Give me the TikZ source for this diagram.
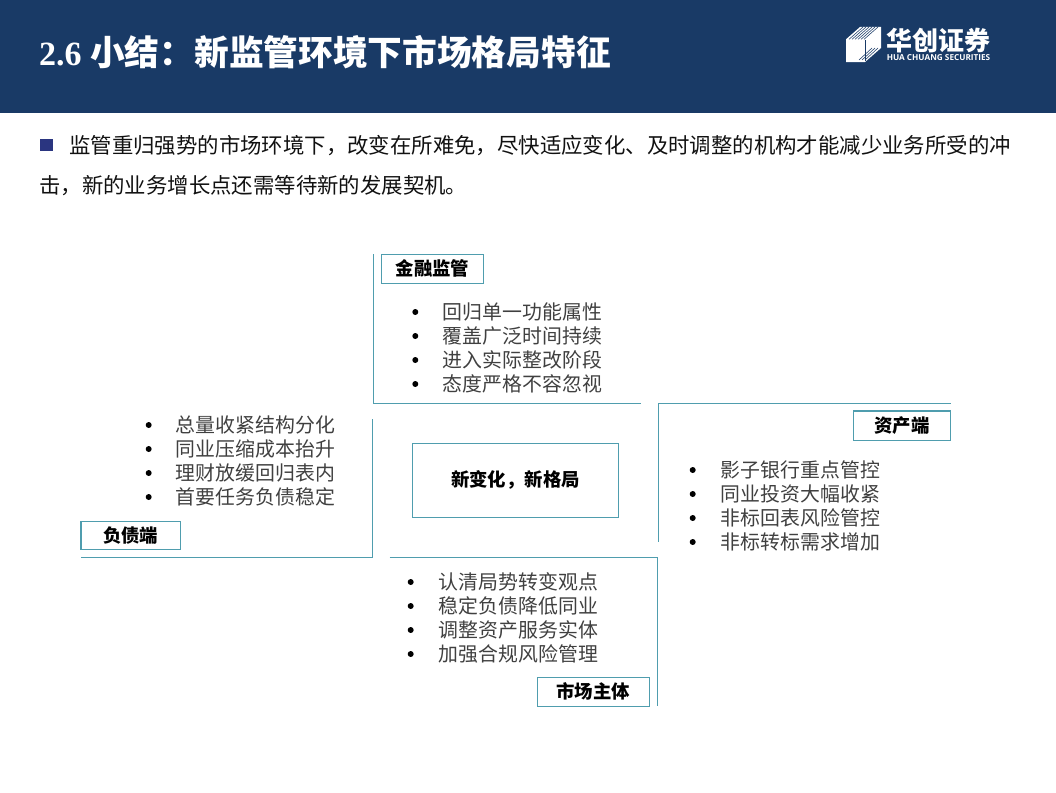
\documentclass[tikz,border=0pt]{standalone}
\usepackage{fontspec}
\setmainfont{Liberation Serif}
\newfontfamily\cjk{Noto Sans CJK SC}
\newfontfamily\latinb{Liberation Serif}
\newfontfamily\logolat{Open Sans}
\newcommand{\fs}[1]{\fontsize{#1pt}{#1pt}\selectfont}
\definecolor{hdr}{HTML}{193A66}
\definecolor{tealline}{HTML}{4F9DAE}
\definecolor{sq}{HTML}{2A3580}
\definecolor{bodytx}{HTML}{111111}
\definecolor{listtx}{HTML}{404040}
\tikzset{
 x=1pt,y=-1pt,
 lab/.style={draw=tealline,line width=1.3pt,fill=white,inner sep=0pt,outer sep=0pt,font=\cjk\fs{18.4}\bfseries,text=black,anchor=north west,align=center},
 rule/.style={draw=tealline,line width=1.3pt},
 body/.style={anchor=west,inner sep=0pt,font=\cjk\fs{21.4},text=bodytx},
 item/.style={anchor=west,inner sep=0pt,font=\cjk\fs{19.9},text=listtx},
 dot/.style={circle,fill=black,inner sep=0pt,minimum size=6pt},
}
\begin{document}
\begin{tikzpicture}
\useasboundingbox (0,0) rectangle (1056,792);
\fill[hdr] (0,0) rectangle (1056,113);
\node[anchor=west,inner sep=0pt,text=white] (title) at (39,52) {\latinb\fs{34}\bfseries 2.6 \cjk\fs{34.7}\bfseries 小结：新监管环境下市场格局特征};
% logo
\fill[white] (846,39.3) -- (860,27) -- (881,27) -- (881,48) -- (865,62) -- (846,62) -- cycle;
\foreach \d in {3,6,9,12,15,18}{\draw[hdr,line width=.55pt] (846+\d,39.3) -- (860+\d,27);}
\foreach \d in {3,6,9}{\draw[hdr,line width=.55pt] (881-\d,48+\d*.0) -- (881-\d-13,60);}
\draw[hdr,line width=.8pt] (865,40) -- (865,61);
\node[inner sep=0pt,text=white] (logocn) at (938.5,41) {\cjk\fs{26}\bfseries 华创证券};
\node[inner sep=0pt,text=white] (logoen) at (938.5,57.5) {\logolat\fs{8.2}\bfseries HUA CHUANG SECURITIES};
% bullet text
\fill[sq] (40,139) rectangle (53,151);
\node[body] (l1) at (69,146) {监管重归强势的市场环境下，改变在所难免，尽快适应变化、及时调整的机构才能减少业务所受的冲};
\node[body] (l2) at (39,186) {击，新的业务增长点还需等待新的发展契机。};
% rules
\coordinate (a1) at (373.5,254); \coordinate (a2) at (373.5,403.5); \coordinate (a3) at (641,403.5);
\coordinate (b1) at (658.5,541.5); \coordinate (b2) at (658.5,403.5); \coordinate (b3) at (950.5,403.5);
\coordinate (c1) at (372.5,419); \coordinate (c2) at (372.5,557.5); \coordinate (c3) at (81,557.5);
\coordinate (d1) at (389.5,557.5); \coordinate (d2) at (657.5,557.5); \coordinate (d3) at (657.5,706);
\draw[rule] (a1) -- (a2) -- (a3);
\draw[rule] (b1) -- (b2) -- (b3);
\draw[rule] (c1) -- (c2) -- (c3);
\draw[rule] (d1) -- (d2) -- (d3);
% labels
\node[lab,minimum width=102.4pt,minimum height=29pt] (jr) at (381.3,254.3) {金融监管};
\node[lab,minimum width=97.4pt,minimum height=29.3pt] (zc) at (853.3,411) {资产端};
\node[lab,minimum width=99.3pt,minimum height=27.6pt] (fz) at (81,521.7) {负债端};
\node[lab,minimum width=112pt,minimum height=29pt] (sc) at (537.3,677.3) {市场主体};
\node[lab,minimum width=206.4pt,minimum height=74pt] (center) at (412.3,443.3) {新变化，新格局};
% lists
\foreach \n/\y/\t in {a/312/回归单一功能属性,b/336/覆盖广泛时间持续,c/360/进入实际整改阶段,d/384/态度严格不容忽视}{
  \node[dot] (t\n) at (415.3,\y) {}; \node[item] (tt\n) at (442.5,\y) {\t};}
\foreach \n/\y/\t in {a/425/总量收紧结构分化,b/449/同业压缩成本抬升,c/473/理财放缓回归表内,d/497/首要任务负债稳定}{
  \node[dot] (l\n) at (148.7,\y) {}; \node[item] (ll\n) at (175.5,\y) {\t};}
\foreach \n/\y/\t in {a/470/影子银行重点管控,b/494/同业投资大幅收紧,c/518/非标回表风险管控,d/542/非标转标需求增加}{
  \node[dot] (r\n) at (692.7,\y) {}; \node[item] (rr\n) at (720.5,\y) {\t};}
\foreach \n/\y/\t in {a/582/认清局势转变观点,b/606/稳定负债降低同业,c/630/调整资产服务实体,d/654/加强合规风险管理}{
  \node[dot] (m\n) at (410.7,\y) {}; \node[item] (mm\n) at (438.5,\y) {\t};}
\end{tikzpicture}
\end{document}
